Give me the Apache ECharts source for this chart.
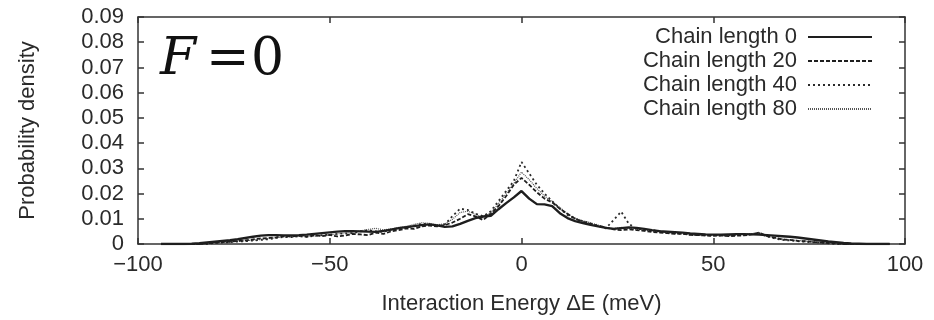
<!DOCTYPE html>
<html>
<head>
<meta charset="utf-8">
<script src="https://cdn.jsdelivr.net/npm/echarts@6/dist/echarts.min.js"></script>
<style>html,body{margin:0;padding:0;background:#fff;}#c{width:934px;height:320px;}</style>
</head>
<body>
<div id="c"></div>
<script>
// Energy grid (meV)
const energy = [];
for (let e = -94; e <= 96; e += 2) energy.push(e);

const xTicks = [-100, -50, 0, 50, 100];
const yTicks = [0, 0.01, 0.02, 0.03, 0.04, 0.05, 0.06, 0.07, 0.08, 0.09];
const seriesNames = ['Chain length 0', 'Chain length 20', 'Chain length 40', 'Chain length 80'];

const chain0 = [
0,0,0,0,0.0001,0.0003,0.0006,0.0009,0.0012,0.0015,
0.0019,0.0024,0.0029,0.0033,0.0035,0.0035,0.0034,0.0034,0.0035,0.0037,
0.0040,0.0043,0.0046,0.0049,0.0051,0.0051,0.0050,0.0049,0.0048,0.0052,
0.0057,0.0063,0.0067,0.0071,0.0075,0.0078,0.0074,0.0068,0.0070,0.0080,
0.0092,0.0103,0.0109,0.0112,0.0138,0.0162,0.0185,0.0210,0.0180,0.0158,
0.0157,0.0150,0.0122,0.0103,0.0091,0.0083,0.0076,0.0070,0.0064,0.0060,
0.0063,0.0066,0.0064,0.0060,0.0055,0.0051,0.0049,0.0047,0.0045,0.0042,
0.0040,0.0038,0.0037,0.0037,0.0038,0.0039,0.0039,0.0038,0.0037,0.0035,
0.0033,0.0031,0.0029,0.0026,0.0022,0.0018,0.0014,0.0010,0.0007,0.0004,
0.0002,0.0001,0,0,0,0
];
const chain20 = [
0,0,0,0,0,0,0.0003,0.0005,0.0008,0.0009,
0.0012,0.0014,0.0018,0.0022,0.0024,0.0026,0.0032,0.0030,0.0033,0.0029,
0.0035,0.0031,0.0036,0.0030,0.0034,0.0040,0.0038,0.0035,0.0045,0.0040,
0.0050,0.0055,0.0062,0.0060,0.0070,0.0073,0.0070,0.0075,0.0085,0.0100,
0.0118,0.0110,0.0095,0.0120,0.0150,0.0190,0.0235,0.0262,0.0235,0.0205,
0.0180,0.0165,0.0140,0.0120,0.0100,0.0088,0.0080,0.0072,0.0065,0.0058,
0.0055,0.0058,0.0055,0.0052,0.0048,0.0045,0.0043,0.0040,0.0041,0.0036,
0.0035,0.0034,0.0032,0.0034,0.0031,0.0033,0.0034,0.0038,0.0045,0.0032,
0.0025,0.0018,0.0016,0.0012,0.0011,0.0008,0.0006,0.0004,0.0002,0,
0,0,0,0,0,0
];
const chain40 = [
0,0,0,0,0,0,0,0.0004,0.0006,0.0007,
0.0010,0.0011,0.0014,0.0016,0.0019,0.0024,0.0028,0.0027,0.0031,0.0028,
0.0033,0.0035,0.0037,0.0040,0.0042,0.0043,0.0050,0.0055,0.0050,0.0048,
0.0058,0.0062,0.0065,0.0072,0.0080,0.0078,0.0072,0.0078,0.0110,0.0140,
0.0135,0.0120,0.0110,0.0130,0.0170,0.0210,0.0250,0.0325,0.0280,0.0235,
0.0200,0.0170,0.0140,0.0115,0.0100,0.0090,0.0082,0.0070,0.0062,0.0095,
0.0128,0.0080,0.0060,0.0058,0.0055,0.0050,0.0047,0.0042,0.0040,0.0037,
0.0036,0.0034,0.0035,0.0033,0.0034,0.0035,0.0036,0.0040,0.0043,0.0030,
0.0022,0.0016,0.0014,0.0011,0.0009,0.0007,0.0005,0.0003,0,0,
0,0,0,0,0,0
];
const chain80 = [
0,0,0,0,0,0,0.0002,0.0004,0.0007,0.0009,
0.0011,0.0013,0.0015,0.0018,0.0021,0.0025,0.0027,0.0029,0.0030,0.0032,
0.0031,0.0034,0.0036,0.0040,0.0044,0.0046,0.0052,0.0058,0.0062,0.0056,
0.0060,0.0066,0.0070,0.0078,0.0084,0.0082,0.0076,0.0080,0.0098,0.0125,
0.0130,0.0118,0.0105,0.0125,0.0160,0.0200,0.0240,0.0285,0.0255,0.0220,
0.0190,0.0168,0.0145,0.0118,0.0102,0.0092,0.0084,0.0075,0.0066,0.0062,
0.0066,0.0062,0.0058,0.0055,0.0052,0.0048,0.0045,0.0043,0.0040,0.0038,
0.0037,0.0036,0.0034,0.0035,0.0036,0.0037,0.0039,0.0041,0.0038,0.0030,
0.0025,0.0020,0.0017,0.0014,0.0012,0.0009,0.0006,0.0004,0.0002,0,
0,0,0,0,0,0
];

const FONT = 'Liberation Sans';
const TXT = '#2a2a2a';
const zip = arr => energy.map((e, i) => [e, arr[i]]);
const styles = [
  {type: 'solid', width: 2.4, color: '#1e1e1e'},
  {type: [4, 2], width: 1.8, color: '#1e1e1e'},
  {type: [2, 3], width: 1.8, color: '#2a2a2a'},
  {type: [1, 1], width: 1.2, color: '#555'}
];
const allData = [chain0, chain20, chain40, chain80];

const fmtX = v => (v < 0 ? '\u2212' + Math.abs(v) : String(v));
const fmtY = v => (v === 0 ? '0' : v.toFixed(2));

const chart = echarts.init(document.getElementById('c'), null, {renderer: 'canvas'});
const axisCommon = {
  axisLine: {show: true, onZero: false, lineStyle: {color: '#333', width: 1.5}},
  axisTick: {show: true, inside: true, length: 6, lineStyle: {color: '#333', width: 1.5}},
  splitLine: {show: false}
};
chart.setOption({
  animation: false,
  backgroundColor: '#fff',
  grid: {left: 138, right: 29, top: 17, bottom: 73},
  legend: seriesNames.map((n, i) => ({
    data: [n],
    right: 61,
    top: 26 + i * 24,
    align: 'right',
    itemWidth: 64,
    itemHeight: 12,
    itemGap: 0,
    padding: 0,
    itemStyle: {opacity: 0},
    textStyle: {fontFamily: FONT, fontSize: 22, color: TXT, padding: [0, 6, 0, 0]},
    selectedMode: false
  })),
  xAxis: [
    Object.assign({
      type: 'value', min: xTicks[0], max: xTicks[xTicks.length - 1], interval: 50,
      position: 'bottom',
      name: 'Interaction Energy \u0394E (meV)', nameLocation: 'middle', nameGap: 49,
      nameTextStyle: {fontFamily: FONT, fontSize: 22, color: TXT},
      axisLabel: {fontFamily: FONT, fontSize: 22, color: TXT, margin: 10, formatter: fmtX}
    }, axisCommon),
    Object.assign({
      type: 'value', min: xTicks[0], max: xTicks[xTicks.length - 1], interval: 50,
      position: 'top', axisLabel: {show: false}
    }, axisCommon)
  ],
  yAxis: [
    Object.assign({
      type: 'value', min: yTicks[0], max: yTicks[yTicks.length - 1], interval: 0.01,
      position: 'left',
      name: 'Probability density', nameLocation: 'middle', nameGap: 99, nameRotate: 90,
      nameTextStyle: {fontFamily: FONT, fontSize: 22, color: TXT},
      axisLabel: {fontFamily: FONT, fontSize: 22, color: TXT, margin: 14, formatter: fmtY}
    }, axisCommon),
    Object.assign({
      type: 'value', min: yTicks[0], max: yTicks[yTicks.length - 1], interval: 0.01,
      position: 'right', axisLabel: {show: false}
    }, axisCommon)
  ],
  series: seriesNames.map((n, i) => ({
    name: n,
    type: 'line',
    xAxisIndex: 0, yAxisIndex: 0,
    data: zip(allData[i]),
    symbol: 'none',
    smooth: false,
    lineStyle: styles[i],
    itemStyle: {color: styles[i].color},
    z: 10 - i
  })),
  graphic: [
    {type: 'text', left: 160, top: 34, style: {text: 'F', font: 'italic 52px "DejaVu Serif"', fill: '#111'}},
    {type: 'text', left: 206, top: 34, style: {text: '=', font: '52px "DejaVu Serif"', fill: '#111'}},
    {type: 'text', left: 251, top: 34, style: {text: '0', font: '52px "DejaVu Serif"', fill: '#111'}}
  ]
});
</script>
</body>
</html>
